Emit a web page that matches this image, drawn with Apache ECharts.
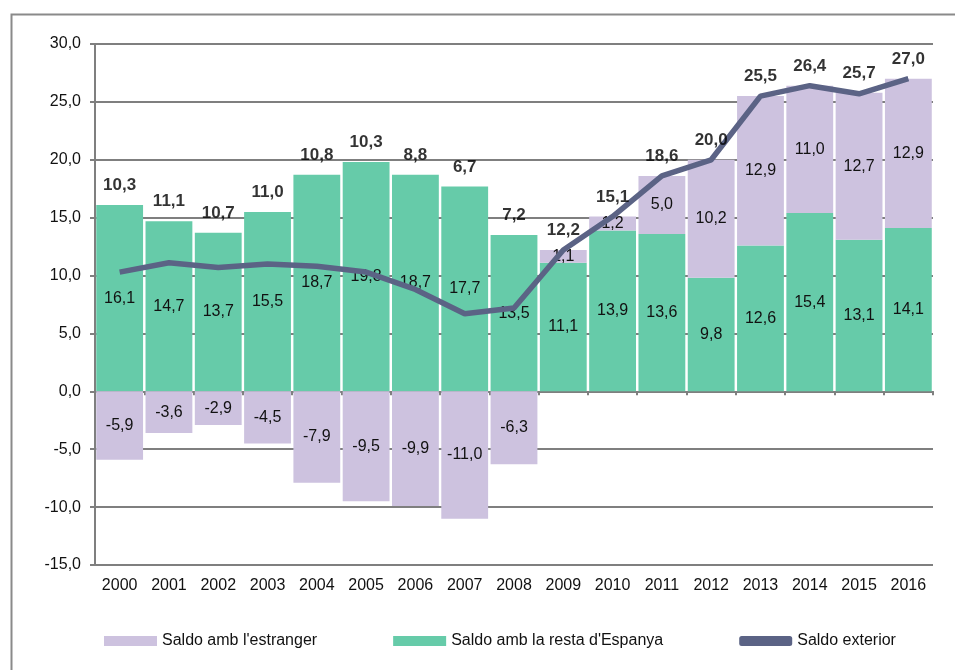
<!DOCTYPE html>
<html>
<head>
<meta charset="utf-8">
<script src="https://cdn.jsdelivr.net/npm/echarts@6/dist/echarts.min.js"></script>
<style>
  html, body { margin: 0; padding: 0; background: #fff; }
  #chart { width: 955px; height: 670px; }
</style>
</head>
<body>
<div id="chart"></div>
<script>
// values
const years = ['2000', '2001', '2002', '2003', '2004', '2005', '2006', '2007', '2008',
  '2009', '2010', '2011', '2012', '2013', '2014', '2015', '2016'];
const restaEspanya = [16.1, 14.7, 13.7, 15.5, 18.7, 19.8, 18.7, 17.7, 13.5,
  11.1, 13.9, 13.6, 9.8, 12.6, 15.4, 13.1, 14.1];
const estranger = [-5.9, -3.6, -2.9, -4.5, -7.9, -9.5, -9.9, -11.0, -6.3,
  1.1, 1.2, 5.0, 10.2, 12.9, 11.0, 12.7, 12.9];
const saldoExterior = [10.3, 11.1, 10.7, 11.0, 10.8, 10.3, 8.8, 6.7, 7.2,
  12.2, 15.1, 18.6, 20.0, 25.5, 26.4, 25.7, 27.0];
const yTicks = { min: -15, max: 30, step: 5 };

const fmt = v => Number(v).toFixed(1).replace('.', ',');
const FONT = '"Liberation Sans", Arial, sans-serif';

// top of the positive stack, used to hang the bold total labels
const stackTop = restaEspanya.map((v, i) => Math.max(v, 0) + Math.max(estranger[i], 0));

const chart = echarts.init(document.getElementById('chart'));

const innerLabel = {
  show: true,
  position: 'inside',
  color: '#111',
  fontFamily: FONT,
  fontSize: 16,
  formatter: p => fmt(p.value)
};

chart.setOption({
  animation: false,
  textStyle: { fontFamily: FONT },
  graphic: [{
    type: 'rect',
    left: 9, top: 12,
    shape: { width: 990, height: 700 },
    style: { fill: 'none', stroke: '#8a8a8a', lineWidth: 2 },
    silent: true
  }],
  grid: { left: 95, right: 22, top: 44, bottom: 105 },
  legend: {
    bottom: 16,
    left: 99,
    itemWidth: 53,
    itemHeight: 10,
    itemGap: 76,
    textStyle: { fontSize: 16, color: '#111', fontFamily: FONT },
    data: [
      { name: "Saldo amb l'estranger", icon: 'rect' },
      { name: "Saldo amb la resta d'Espanya", icon: 'rect' },
      { name: 'Saldo exterior', icon: 'roundRect' }
    ]
  },
  xAxis: [
    {
      type: 'category',
      data: years,
      axisLine: { onZero: true, lineStyle: { color: '#7f7f7f', width: 2 } },
      axisTick: { show: true, length: 4, lineStyle: { color: '#7f7f7f', width: 2 } },
      axisLabel: { show: false }
    },
    {
      type: 'category',
      data: years,
      position: 'bottom',
      axisLine: { show: false },
      axisTick: { show: false },
      axisLabel: { color: '#111', fontSize: 16, margin: 13, fontFamily: FONT }
    }
  ],
  yAxis: {
    type: 'value',
    min: yTicks.min,
    max: yTicks.max,
    interval: yTicks.step,
    axisLine: { show: true, lineStyle: { color: '#7f7f7f', width: 2 } },
    axisTick: { show: true, length: 5, lineStyle: { color: '#7f7f7f', width: 2 } },
    splitLine: { lineStyle: { color: '#7f7f7f', width: 2 } },
    axisLabel: { color: '#111', fontSize: 16, margin: 14, fontFamily: FONT, formatter: v => fmt(v) }
  },
  series: [
    {
      name: "Saldo amb la resta d'Espanya",
      type: 'bar',
      stack: 'saldo',
      data: restaEspanya,
      barCategoryGap: '5%',
      itemStyle: { color: '#66CBA9' },
      label: innerLabel
    },
    {
      name: "Saldo amb l'estranger",
      type: 'bar',
      stack: 'saldo',
      data: estranger,
      barCategoryGap: '5%',
      itemStyle: { color: '#CDC2DF' },
      label: innerLabel
    },
    {
      name: 'Saldo exterior',
      type: 'line',
      data: saldoExterior,
      symbol: 'none',
      z: 5,
      lineStyle: { color: '#5B6385', width: 5.5 },
      itemStyle: { color: '#5B6385' }
    },
    {
      name: 'totals',
      type: 'scatter',
      data: stackTop,
      symbolSize: 0,
      silent: true,
      z: 6,
      label: {
        show: true,
        position: 'top',
        distance: 11,
        color: '#000',
        fontWeight: 'bold',
        fontSize: 17,
        fontFamily: FONT,
        formatter: p => fmt(saldoExterior[p.dataIndex])
      }
    }
  ]
});
</script>
</body>
</html>
